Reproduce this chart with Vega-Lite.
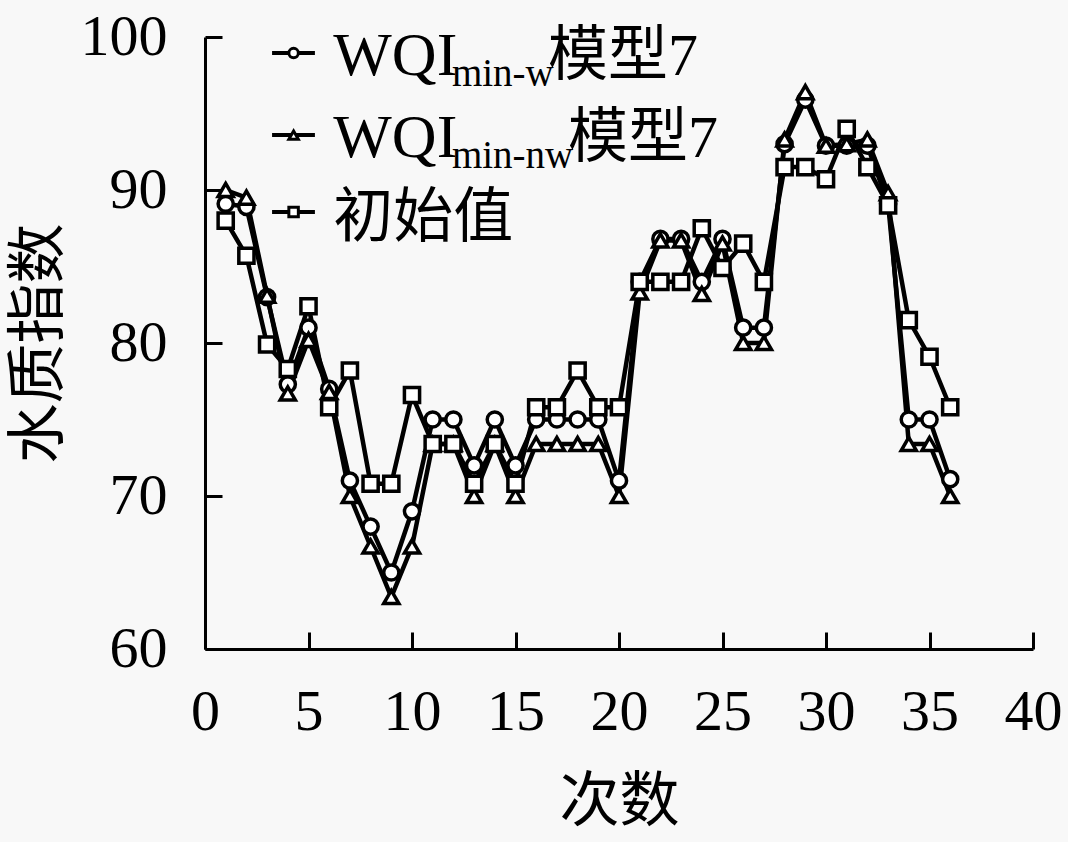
{
  "$schema": "https://vega.github.io/schema/vega-lite/v6.json",
  "width": 828,
  "height": 612,
  "autosize": {"type": "none"},
  "padding": {"left": 205, "top": 37, "right": 35, "bottom": 193},
  "background": "#f8f8f8",
  "config": {
    "view": {"stroke": null},
    "axis": {
      "domainColor": "black",
      "domainWidth": 3,
      "tickColor": "black",
      "tickWidth": 3,
      "tickSize": -17,
      "grid": false,
      "labelFlush": false,
      "labelFont": "Liberation Serif",
      "labelFontSize": 58,
      "labelColor": "black",
      "titleFont": "Liberation Serif, Noto Sans CJK SC",
      "titleFontSize": 60,
      "titleFontWeight": "normal",
      "titleColor": "black"
    }
  },
  "datasets": {
    "main": [
      {"x": 1, "series": "w", "v": 89.1}, {"x": 2, "series": "w", "v": 88.9}, {"x": 3, "series": "w", "v": 83.0}, {"x": 4, "series": "w", "v": 77.3},
      {"x": 5, "series": "w", "v": 81.0}, {"x": 6, "series": "w", "v": 77.0}, {"x": 7, "series": "w", "v": 71.0}, {"x": 8, "series": "w", "v": 68.0},
      {"x": 9, "series": "w", "v": 65.0}, {"x": 10, "series": "w", "v": 69.0}, {"x": 11, "series": "w", "v": 75.0}, {"x": 12, "series": "w", "v": 75.0},
      {"x": 13, "series": "w", "v": 72.0}, {"x": 14, "series": "w", "v": 75.0}, {"x": 15, "series": "w", "v": 72.0}, {"x": 16, "series": "w", "v": 75.0},
      {"x": 17, "series": "w", "v": 75.0}, {"x": 18, "series": "w", "v": 75.0}, {"x": 19, "series": "w", "v": 75.0}, {"x": 20, "series": "w", "v": 71.0},
      {"x": 21, "series": "w", "v": 84.0}, {"x": 22, "series": "w", "v": 86.8}, {"x": 23, "series": "w", "v": 86.8}, {"x": 24, "series": "w", "v": 84.0},
      {"x": 25, "series": "w", "v": 86.8}, {"x": 26, "series": "w", "v": 81.0}, {"x": 27, "series": "w", "v": 81.0}, {"x": 28, "series": "w", "v": 93.0},
      {"x": 29, "series": "w", "v": 95.9}, {"x": 30, "series": "w", "v": 92.9}, {"x": 31, "series": "w", "v": 92.9}, {"x": 32, "series": "w", "v": 92.9},
      {"x": 33, "series": "w", "v": 89.1}, {"x": 34, "series": "w", "v": 75.0}, {"x": 35, "series": "w", "v": 75.0}, {"x": 36, "series": "w", "v": 71.1},
      {"x": 1, "series": "nw", "v": 90.0}, {"x": 2, "series": "nw", "v": 89.5}, {"x": 3, "series": "nw", "v": 83.1}, {"x": 4, "series": "nw", "v": 76.7},
      {"x": 5, "series": "nw", "v": 80.2}, {"x": 6, "series": "nw", "v": 76.8}, {"x": 7, "series": "nw", "v": 70.0}, {"x": 8, "series": "nw", "v": 66.7},
      {"x": 9, "series": "nw", "v": 63.4}, {"x": 10, "series": "nw", "v": 66.7}, {"x": 11, "series": "nw", "v": 73.4}, {"x": 12, "series": "nw", "v": 73.4},
      {"x": 13, "series": "nw", "v": 70.0}, {"x": 14, "series": "nw", "v": 73.4}, {"x": 15, "series": "nw", "v": 70.0}, {"x": 16, "series": "nw", "v": 73.4},
      {"x": 17, "series": "nw", "v": 73.4}, {"x": 18, "series": "nw", "v": 73.4}, {"x": 19, "series": "nw", "v": 73.4}, {"x": 20, "series": "nw", "v": 70.0},
      {"x": 21, "series": "nw", "v": 83.3}, {"x": 22, "series": "nw", "v": 86.7}, {"x": 23, "series": "nw", "v": 86.7}, {"x": 24, "series": "nw", "v": 83.2},
      {"x": 25, "series": "nw", "v": 86.5}, {"x": 26, "series": "nw", "v": 80.0}, {"x": 27, "series": "nw", "v": 80.0}, {"x": 28, "series": "nw", "v": 93.3},
      {"x": 29, "series": "nw", "v": 96.4}, {"x": 30, "series": "nw", "v": 92.9}, {"x": 31, "series": "nw", "v": 93.0}, {"x": 32, "series": "nw", "v": 93.3},
      {"x": 33, "series": "nw", "v": 89.8}, {"x": 34, "series": "nw", "v": 73.4}, {"x": 35, "series": "nw", "v": 73.4}, {"x": 36, "series": "nw", "v": 70.0},
      {"x": 1, "series": "init", "v": 88.0}, {"x": 2, "series": "init", "v": 85.7}, {"x": 3, "series": "init", "v": 79.9}, {"x": 4, "series": "init", "v": 78.3},
      {"x": 5, "series": "init", "v": 82.4}, {"x": 6, "series": "init", "v": 75.8}, {"x": 7, "series": "init", "v": 78.2}, {"x": 8, "series": "init", "v": 70.8},
      {"x": 9, "series": "init", "v": 70.8}, {"x": 10, "series": "init", "v": 76.6}, {"x": 11, "series": "init", "v": 73.4}, {"x": 12, "series": "init", "v": 73.4},
      {"x": 13, "series": "init", "v": 70.8}, {"x": 14, "series": "init", "v": 73.4}, {"x": 15, "series": "init", "v": 70.8}, {"x": 16, "series": "init", "v": 75.8},
      {"x": 17, "series": "init", "v": 75.8}, {"x": 18, "series": "init", "v": 78.2}, {"x": 19, "series": "init", "v": 75.8}, {"x": 20, "series": "init", "v": 75.8},
      {"x": 21, "series": "init", "v": 84.0}, {"x": 22, "series": "init", "v": 84.0}, {"x": 23, "series": "init", "v": 84.0}, {"x": 24, "series": "init", "v": 87.5},
      {"x": 25, "series": "init", "v": 84.9}, {"x": 26, "series": "init", "v": 86.5}, {"x": 27, "series": "init", "v": 84.0}, {"x": 28, "series": "init", "v": 91.5},
      {"x": 29, "series": "init", "v": 91.5}, {"x": 30, "series": "init", "v": 90.7}, {"x": 31, "series": "init", "v": 94.0}, {"x": 32, "series": "init", "v": 91.5},
      {"x": 33, "series": "init", "v": 89.0}, {"x": 34, "series": "init", "v": 81.5}, {"x": 35, "series": "init", "v": 79.1}, {"x": 36, "series": "init", "v": 75.8}
    ],
    "one": [{"k": 1}]
  },
  "layer": [
    {
      "data": {"name": "main"},
      "mark": {"type": "line", "color": "black", "strokeWidth": 4.5},
      "encoding": {
        "x": {"field": "x", "type": "quantitative", "scale": {"domain": [0, 40], "nice": false, "zero": false},
              "axis": {"values": [0, 5, 10, 15, 20, 25, 30, 35, 40], "title": "次数", "labelPadding": 51, "titlePadding": 32}},
        "y": {"field": "v", "type": "quantitative", "scale": {"domain": [60, 100], "nice": false, "zero": false},
              "axis": {"values": [60, 70, 80, 90, 100], "title": "水质指数", "labelPadding": 55, "titlePadding": 10}},
        "detail": {"field": "series"}
      }
    },
    {
      "data": {"name": "main"},
      "mark": {"type": "point", "filled": true, "fill": "white", "stroke": "black", "strokeWidth": 3.5, "opacity": 1, "size": 230},
      "encoding": {
        "x": {"field": "x", "type": "quantitative"},
        "y": {"field": "v", "type": "quantitative"},
        "shape": {"field": "series", "type": "nominal", "legend": null,
                  "scale": {"domain": ["w", "nw", "init"], "range": ["circle", "triangle-up", "square"]}}
      }
    },
    {
      "data": {"name": "one"},
      "mark": {"type": "rule", "color": "black", "strokeWidth": 4},
      "encoding": {"x": {"datum": 3.24}, "x2": {"datum": 5.31}, "y": {"datum": 98.95}}
    },
    {
      "data": {"name": "one"},
      "mark": {"type": "rule", "color": "black", "strokeWidth": 4},
      "encoding": {"x": {"datum": 3.24}, "x2": {"datum": 5.31}, "y": {"datum": 93.59}}
    },
    {
      "data": {"name": "one"},
      "mark": {"type": "rule", "color": "black", "strokeWidth": 4},
      "encoding": {"x": {"datum": 3.24}, "x2": {"datum": 5.31}, "y": {"datum": 88.56}}
    },
    {
      "data": {"name": "one"},
      "mark": {"type": "point", "shape": "circle", "filled": true, "fill": "white", "stroke": "black", "strokeWidth": 3, "opacity": 1, "size": 90},
      "encoding": {"x": {"datum": 4.28}, "y": {"datum": 98.95}}
    },
    {
      "data": {"name": "one"},
      "mark": {"type": "point", "shape": "triangle-up", "filled": true, "fill": "white", "stroke": "black", "strokeWidth": 3, "opacity": 1, "size": 90},
      "encoding": {"x": {"datum": 4.28}, "y": {"datum": 93.59}}
    },
    {
      "data": {"name": "one"},
      "mark": {"type": "point", "shape": "square", "filled": true, "fill": "white", "stroke": "black", "strokeWidth": 3, "opacity": 1, "size": 90},
      "encoding": {"x": {"datum": 4.28}, "y": {"datum": 88.56}}
    },
    {
      "data": {"name": "one"},
      "mark": {"type": "text", "text": "WQI", "font": "Liberation Serif", "fontSize": 62, "align": "left", "baseline": "alphabetic", "color": "black"},
      "encoding": {"x": {"datum": 6.2}, "y": {"datum": 97.52}}
    },
    {
      "data": {"name": "one"},
      "mark": {"type": "text", "text": "min-w", "font": "Liberation Serif", "fontSize": 39, "align": "left", "baseline": "alphabetic", "color": "black"},
      "encoding": {"x": {"datum": 11.93}, "y": {"datum": 96.8}}
    },
    {
      "data": {"name": "one"},
      "mark": {"type": "text", "text": "模型7", "font": "Liberation Serif, Noto Sans CJK SC", "fontSize": 60, "align": "left", "baseline": "alphabetic", "color": "black"},
      "encoding": {"x": {"datum": 16.57}, "y": {"datum": 97.52}}
    },
    {
      "data": {"name": "one"},
      "mark": {"type": "text", "text": "WQI", "font": "Liberation Serif", "fontSize": 62, "align": "left", "baseline": "alphabetic", "color": "black"},
      "encoding": {"x": {"datum": 6.2}, "y": {"datum": 92.16}}
    },
    {
      "data": {"name": "one"},
      "mark": {"type": "text", "text": "min-nw", "font": "Liberation Serif", "fontSize": 39, "align": "left", "baseline": "alphabetic", "color": "black"},
      "encoding": {"x": {"datum": 11.93}, "y": {"datum": 91.44}}
    },
    {
      "data": {"name": "one"},
      "mark": {"type": "text", "text": "模型7", "font": "Liberation Serif, Noto Sans CJK SC", "fontSize": 60, "align": "left", "baseline": "alphabetic", "color": "black"},
      "encoding": {"x": {"datum": 17.54}, "y": {"datum": 92.16}}
    },
    {
      "data": {"name": "one"},
      "mark": {"type": "text", "text": "初始值", "font": "Liberation Serif, Noto Sans CJK SC", "fontSize": 60, "align": "left", "baseline": "alphabetic", "color": "black"},
      "encoding": {"x": {"datum": 6.2}, "y": {"datum": 86.93}}
    }
  ]
}
